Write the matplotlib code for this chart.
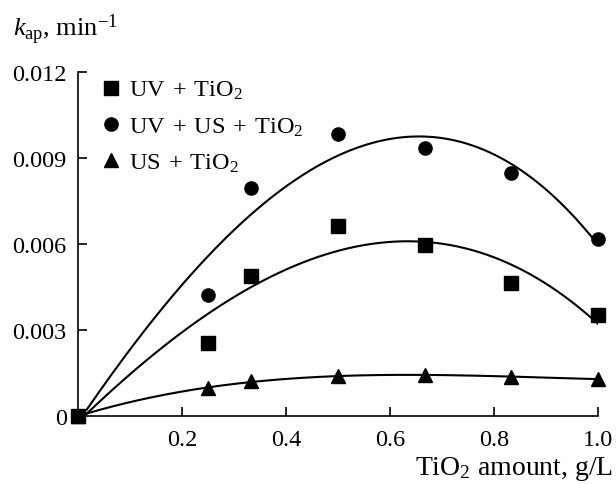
import numpy as np
import matplotlib
matplotlib.use('Agg')
from matplotlib import pyplot as plt

plt.rcParams['font.family'] = 'Liberation Serif'
plt.rcParams['mathtext.fontset'] = 'custom'
plt.rcParams['mathtext.rm'] = 'Liberation Serif'
plt.rcParams['mathtext.it'] = 'Liberation Serif:italic'

# TiO2 amount, g/L
tio2 = [0, 0.25, 0.333, 0.5, 0.667, 0.833, 1.0]
# apparent rate constants, min^-1
uv_tio2 = [0, 0.00256, 0.00488, 0.00662, 0.00598, 0.00465, 0.00351]
uv_us_tio2 = [0, 0.00422, 0.00795, 0.00983, 0.00935, 0.00848, 0.00618]
us_tio2 = [0, 0.00097, 0.00121, 0.00140, 0.00143, 0.00137, 0.00129]

plus = ' \u200a+\u200a '
series = [
    ('UV' + plus + 'TiO$_2$', uv_tio2, 's'),
    ('UV' + plus + 'US' + plus + 'TiO$_2$', uv_us_tio2, 'o'),
    ('US' + plus + 'TiO$_2$', us_tio2, '^'),
]

fig = plt.figure(figsize=(6.16, 4.85), dpi=100)
ax = fig.add_axes([0.1266, 0.1402, 0.844, 0.709])

xs = np.array(tio2)
xf = np.linspace(0.017, 1.0, 200)
for name, vals, mk in series:
    # cubic trend line fitted to the measured points
    p = np.polyfit(xs, np.array(vals), 3)
    ax.plot(xf, np.polyval(p, xf), color='black', lw=1.5)
    ax.plot(xs, vals, mk, color='black', ms=9.5, label=name, clip_on=False)

ax.set_xlim(0, 1.0)
ax.set_ylim(0, 0.012)
ax.set_xticks([0.2, 0.4, 0.6, 0.8, 1.0])
ax.set_xticklabels(['0.2', '0.4', '0.6', '0.8', '1.0'])
ax.set_yticks([0, 0.003, 0.006, 0.009, 0.012])
ax.set_yticklabels(['0', '0.003', '0.006', '0.009', '0.012'])
ax.tick_params(direction='in', length=6.5, width=1.2, labelsize=17.5)
ax.tick_params(axis='y', pad=8)
ax.tick_params(axis='x', pad=9)
for s in ['top', 'right']:
    ax.spines[s].set_visible(False)
for s in ['left', 'bottom']:
    ax.spines[s].set_linewidth(1.2)

ax.legend(loc='upper left', bbox_to_anchor=(0.045, 0.98), frameon=False,
          fontsize=17.5, handlelength=0.8, handletextpad=0.32, labelspacing=0.58,
          numpoints=1, borderaxespad=0, borderpad=0)

fig.text(0.021, 0.926, r'$k_{\mathrm{ap}}$, min$^{-1}$', fontsize=19,
         va='baseline')
fig.text(0.995, 0.021, 'TiO$_2$ amount, g/L', fontsize=20, ha='right',
         va='baseline')

plt.savefig('out.png', dpi=100)
